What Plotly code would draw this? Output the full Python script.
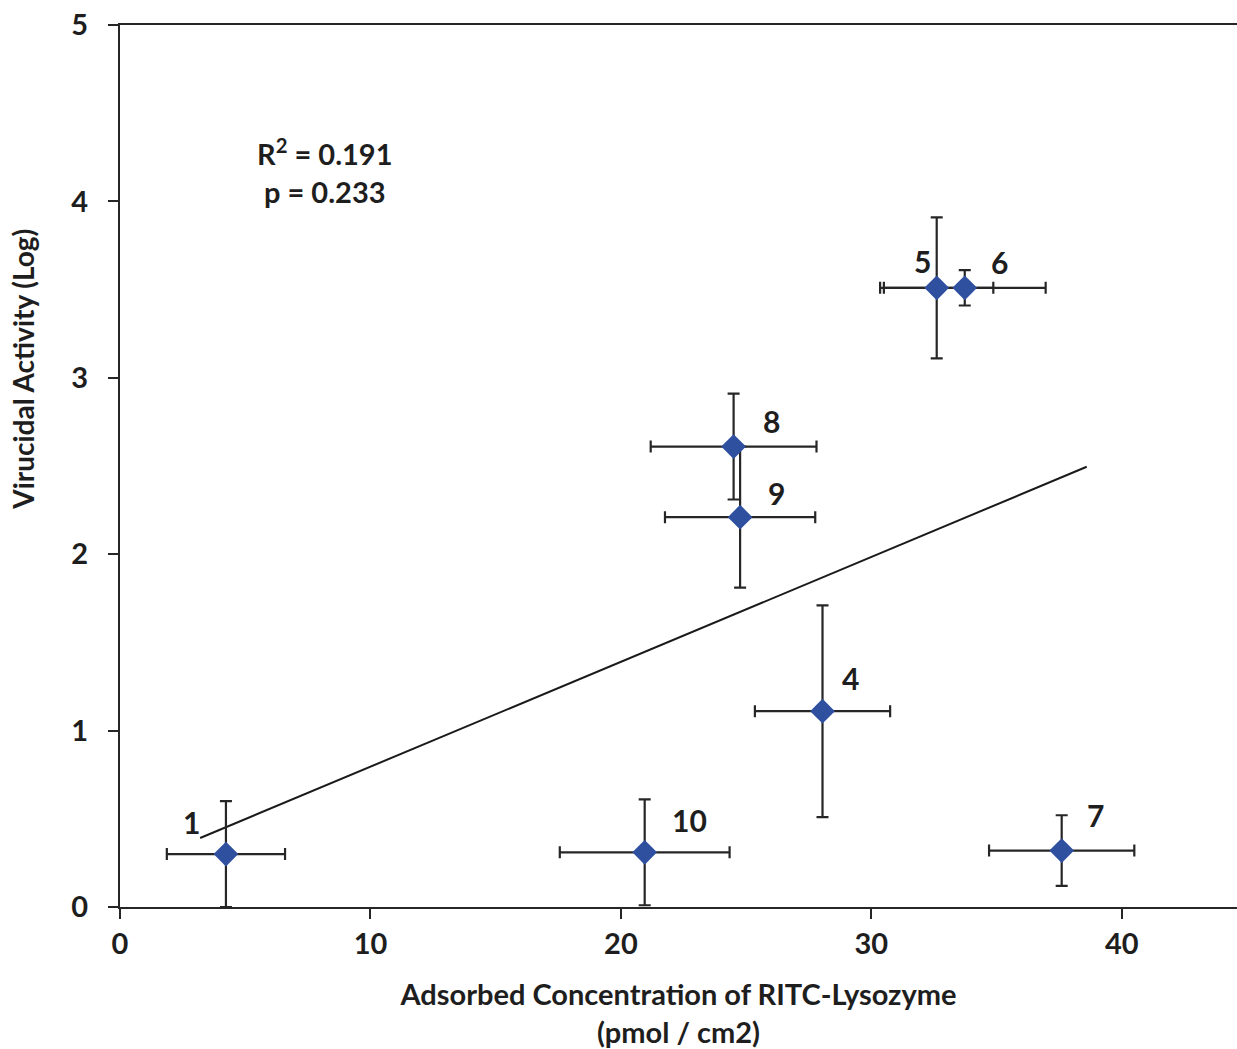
import numpy as np
import plotly.graph_objects as go

# ---- data ----
labels = ["1", "10", "7", "4", "8", "9", "5", "6"]
conc = [4.23, 20.95, 37.6, 28.05, 24.5, 24.76, 32.61, 33.73]
conc_err = [2.36, 3.39, 2.9, 2.7, 3.31, 3.0, 2.26, 3.23]
activity = [0.30, 0.31, 0.32, 1.11, 2.61, 2.21, 3.51, 3.51]
activity_err = [0.30, 0.30, 0.20, 0.60, 0.30, 0.40, 0.40, 0.10]
trend_x = [3.2, 38.6]
stats_text = ["R<sup>2</sup> = 0.191", "p = 0.233"]
x_ticks = [0, 10, 20, 30, 40]
y_ticks = [0, 1, 2, 3, 4, 5]

# label offsets (pixels) relative to points
label_dx = [-34, 45, 34, 28, 38, 36, -14, 35]
label_dy = [32, 32, 36, 33, 26, 24, 27, 26]

FONT = "Lato"
TXT = "#1e1e1e"
LINE = "#262626"

slope, intercept = np.polyfit(conc, activity, 1)
tx = np.array(trend_x)
ty = slope * tx + intercept

fig = go.Figure()
fig.add_trace(go.Scatter(
    x=tx, y=ty, mode="lines",
    line=dict(color="#1a1a1a", width=2), showlegend=False, hoverinfo="skip"))
fig.add_trace(go.Scatter(
    x=conc, y=activity, mode="markers",
    marker=dict(symbol="diamond", size=19, color="#2f4f9f", line=dict(width=0)),
    error_x=dict(type="data", array=conc_err, color=LINE, thickness=2.2, width=6),
    error_y=dict(type="data", array=activity_err, color=LINE, thickness=2.2, width=6),
    showlegend=False))

annotations = []
for lab, x, y, dx, dy in zip(labels, conc, activity, label_dx, label_dy):
    annotations.append(dict(x=x, y=y, xref="x", yref="y", text=f"<b>{lab}</b>",
                            showarrow=False, xshift=dx, yshift=dy,
                            font=dict(family=FONT, size=30, color=TXT)))
annotations.append(dict(x=8.2, y=4.17, xref="x", yref="y",
                        text="<b>" + "<br>".join(stats_text) + "</b>",
                        showarrow=False, align="center",
                        font=dict(family=FONT, size=29, color=TXT)))
annotations.append(dict(x=-0.087, y=0.61, xref="paper", yref="paper",
                        text="<b>Virucidal Activity (Log)</b>", textangle=-90,
                        showarrow=False, xanchor="center", yanchor="middle",
                        font=dict(family=FONT, size=28, color=TXT)))

fig.update_layout(
    width=1237, height=1049,
    margin=dict(l=120, r=0, t=25, b=142),
    paper_bgcolor="white", plot_bgcolor="white",
    font=dict(family=FONT, color=TXT),
    annotations=annotations,
    xaxis=dict(range=[0, 44.6], tickvals=x_ticks,
               ticktext=[f"<b>{v}</b>" for v in x_ticks],
               showgrid=False, zeroline=False,
               showline=True, linecolor=LINE, linewidth=2, mirror=True,
               ticks="outside", ticklen=10, tickwidth=1.5, tickcolor=LINE,
               tickfont=dict(family=FONT, size=29, color=TXT),
               title=dict(text="<b>Adsorbed Concentration of RITC-Lysozyme<br>(pmol / cm2)</b>",
                          font=dict(family=FONT, size=29, color=TXT), standoff=26)),
    yaxis=dict(range=[0, 5], tickvals=y_ticks,
               ticktext=[f"<b>{v}</b>" for v in y_ticks],
               showgrid=False, zeroline=False,
               showline=True, linecolor=LINE, linewidth=2,
               ticks="outside", ticklen=10, tickwidth=1.5, tickcolor=LINE,
               ticklabelstandoff=14,
               tickfont=dict(family=FONT, size=29, color=TXT)),
)

fig.write_html("out.html")
